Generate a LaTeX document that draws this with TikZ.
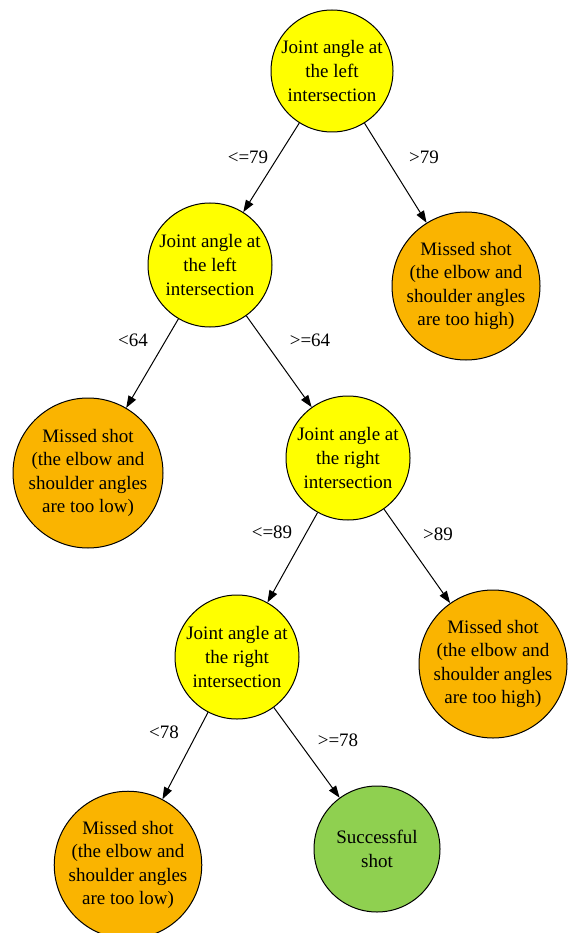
\documentclass[tikz,border=0pt]{standalone}
\usepackage{fontspec}
\setmainfont{Liberation Serif}
\usetikzlibrary{arrows.meta}
\definecolor{cyel}{RGB}{255,255,0}
\definecolor{corg}{RGB}{250,180,0}
\definecolor{cgrn}{RGB}{143,208,80}
\begin{document}
\begin{tikzpicture}[x=1pt,y=-1pt,
  every node/.style={font=\fontsize{19}{23.6}\selectfont},
  nd/.style={circle,draw=black,line width=1pt,inner sep=0pt,align=center},
  dec/.style={nd,fill=cyel},
  miss/.style={nd,fill=corg},
  succ/.style={nd,fill=cgrn},
  edge/.style={draw=black,line width=1pt,-{Triangle[length=12pt,width=8.5pt]}},
  lbl/.style={inner sep=0pt}]
\useasboundingbox (0,0) rectangle (568,933);
\fill[white] (0,0) rectangle (568,933);
\node[dec,minimum size=122pt] (root) at (332,71) {Joint angle at\\the left\\intersection};
\node[dec,minimum size=124pt] (n1) at (210,265) {Joint angle at\\the left\\intersection};
\node[miss,minimum size=148pt] (m1) at (466,286) {Missed shot\\(the elbow and\\shoulder angles\\are too high)};
\node[miss,minimum size=150pt] (m2) at (88,473) {Missed shot\\(the elbow and\\shoulder angles\\are too low)};
\node[dec,minimum size=124pt] (n2) at (348,458) {Joint angle at\\the right\\intersection};
\node[miss,minimum size=148pt] (m3) at (493,664) {Missed shot\\(the elbow and\\shoulder angles\\are too high)};
\node[dec,minimum size=124pt] (n3) at (237,657) {Joint angle at\\the right\\intersection};
\node[miss,minimum size=136pt] (m4) at (128,865) {Missed shot\\(the elbow and\\shoulder angles\\are too low)};
\node[succ,minimum size=126pt] (s) at (377,849) {Successful\\shot};
\draw[edge] (root) -- (n1);
\draw[edge] (root) -- (m1);
\draw[edge] (n1) -- (m2);
\draw[edge] (n1) -- (n2);
\draw[edge] (n2) -- (n3);
\draw[edge] (n2) -- (m3);
\draw[edge] (n3) -- (m4);
\draw[edge] (n3) -- (s);
\node[lbl] (l1) at (248,157) {<=79};
\node[lbl] (l2) at (424,157) {>79};
\node[lbl] (l3) at (133,340) {<64};
\node[lbl] (l4) at (310,340) {>=64};
\node[lbl] (l5) at (272,532) {<=89};
\node[lbl] (l6) at (438,534) {>89};
\node[lbl] (l7) at (164,732) {<78};
\node[lbl] (l8) at (338,740) {>=78};
\end{tikzpicture}
\end{document}
